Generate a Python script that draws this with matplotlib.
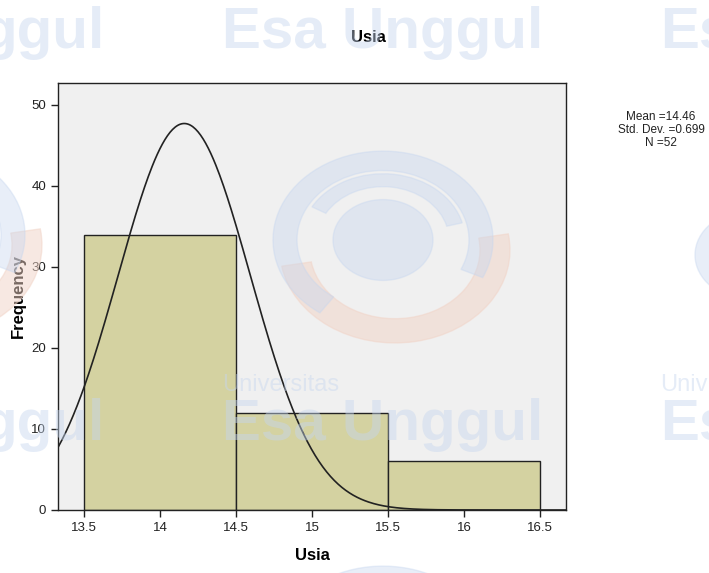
import numpy as np
import matplotlib
matplotlib.use("Agg")
import matplotlib.pyplot as plt
from matplotlib.patches import Circle, Wedge

plt.rcParams['font.family'] = ['Liberation Sans', 'DejaVu Sans']

# histogram of age (Usia)
bin_edges = [13.5, 14.5, 15.5, 16.5]
counts = [34, 12, 6]

# normal curve as drawn in the output (centre, spread, peak height)
curve_center = 14.16
curve_sd = 0.435
curve_peak = 47.7

xticks = [13.5, 14, 14.5, 15, 15.5, 16, 16.5]
xtick_labels = ["13.5", "14", "14.5", "15", "15.5", "16", "16.5"]
yticks = [0, 10, 20, 30, 40, 50]

stats_text = "Mean =14.46\nStd. Dev. =0.699\nN =52"

fig = plt.figure(figsize=(7.09, 5.73), dpi=100)
W, H = 709, 573
ax = fig.add_axes([58 / W, 1 - 510 / H, 508 / W, 427 / H])
ax.set_facecolor("#f0f0f0")

widths = np.diff(bin_edges)
ax.bar(bin_edges[:-1], counts, width=widths, align="edge",
       color="#d4d2a1", edgecolor="#222222", linewidth=1.0, zorder=2)

xs = np.linspace(13.33, 16.67, 400)
ys = curve_peak * np.exp(-(xs - curve_center) ** 2 / (2 * curve_sd ** 2))
ax.plot(xs, ys, color="#222222", linewidth=1.2, zorder=3)

ax.set_xlim(13.33, 16.67)
ax.set_ylim(0, 52.7)
ax.set_xticks(xticks)
ax.set_xticklabels(xtick_labels)
ax.set_yticks(yticks)
ax.tick_params(direction="out", length=5, width=1, labelsize=9.5, colors="#222222")
for s in ax.spines.values():
    s.set_color("#222222")
    s.set_linewidth(1.0)

ax.set_xlabel("Usia", fontsize=12, fontweight="bold", labelpad=10)
ax.set_ylabel("Frequency", fontsize=12, fontweight="bold", labelpad=4)
fig.text(368 / W, 1 - 37 / H, "Usia", ha="center", va="center",
         fontsize=12, fontweight="bold")

fig.text(661 / W, 1 - 130 / H, stats_text, ha="center", va="center",
         fontsize=8.5, linespacing=1.1, color="#222222")

# watermark (Esa Unggul logo tiles)
wm = "#c6d6ef"
wm_red = "#f1d3c6"
big = dict(fontsize=42, fontweight="bold", color=wm, alpha=0.45, zorder=10,
           va="baseline")
small = dict(fontsize=17, color=wm, alpha=0.45, zorder=10, va="baseline")
for base in (48, 440):
    fig.text(222 / W, 1 - base / H, "Esa Unggul", ha="left", **big)
    fig.text(105 / W, 1 - base / H, "ggul", ha="right", **big)
    fig.text(660 / W, 1 - base / H, "Es", ha="left", **big)
fig.text(222 / W, 1 - 391 / H, "Universitas", ha="left", **small)
fig.text(660 / W, 1 - 391 / H, "Univ", ha="left", **small)


def logo(cx, cy, alpha=0.4):
    # centre in pixels from the top-left corner
    c = (cx / W, 1 - cy / H)
    cr = ((cx + 12) / W, 1 - (cy + 10) / H)
    fig.patches.append(Circle(c, 50 / W, transform=fig.transFigure,
                              color=wm, alpha=alpha, zorder=10))
    fig.patches.append(Wedge(c, 110 / W, -25, 235, width=24 / W,
                             transform=fig.transFigure, color=wm, alpha=alpha, zorder=10))
    fig.patches.append(Wedge(c, 82 / W, 15, 150, width=16 / W,
                             transform=fig.transFigure, color=wm, alpha=alpha, zorder=10))
    fig.patches.append(Wedge(cr, 115 / W, 190, 370, width=30 / W,
                             transform=fig.transFigure, color=wm_red, alpha=alpha + 0.1, zorder=9))


logo(383, 240)
logo(-85, 235)
logo(383, 655)
fig.patches.append(Circle((750 / W, 1 - 255 / H), 55 / W, transform=fig.transFigure,
                          color=wm, alpha=0.4, zorder=10))

fig.savefig("out.png", dpi=100)
